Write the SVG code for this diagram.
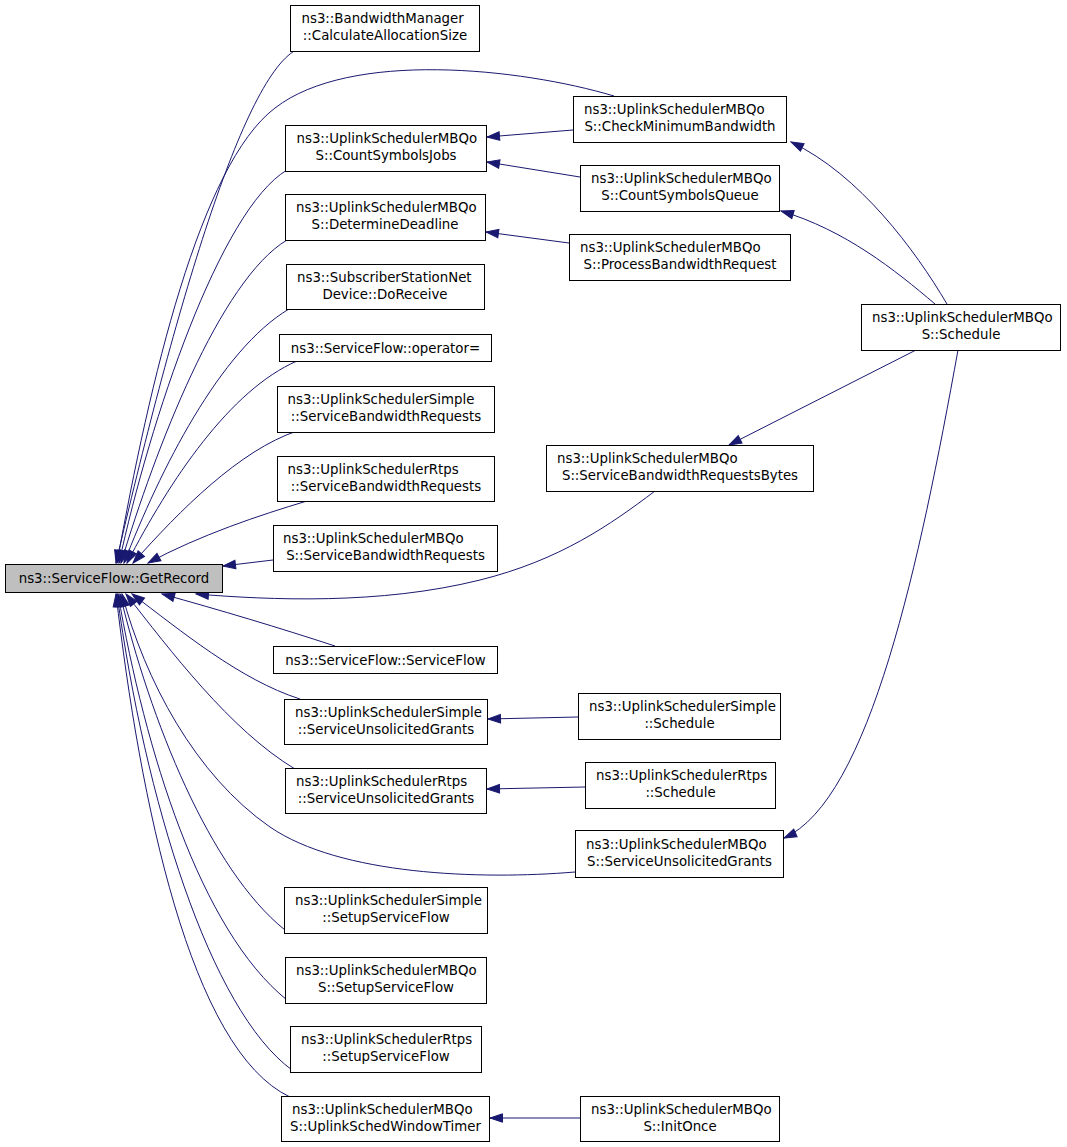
<svg xmlns="http://www.w3.org/2000/svg" width="1067" height="1147" viewBox="0 0 1067 1147">
<style>
.n rect{fill:#ffffff;stroke:#000000;stroke-width:1}
.n text{font-family:"DejaVu Sans","Liberation Sans",sans-serif;font-size:13.33px;fill:#000000;text-anchor:middle}
.n text.l{text-anchor:start}
#node0 rect{fill:#bfbfbf}
.e path{fill:none;stroke:#191970;stroke-width:1;marker-end:url(#arr)}
</style>
<defs>
<marker id="arr" markerUnits="userSpaceOnUse" markerWidth="14" markerHeight="10" refX="12.5" refY="4.25" orient="auto" overflow="visible">
<path d="M0,0 L12.5,4.25 L0,8.5 z" fill="#191970" stroke="#191970" stroke-width="1"/>
</marker>
</defs>
<rect width="1067" height="1147" fill="#ffffff"/>
<g id="edges" class="e">
<path d="M296,50 C240,80 170,330 116,563"/>
<path d="M614,96 C520,68 350,50 275,108 C200,165 150,380 117,563"/>
<path d="M287,170 C220,210 150,420 119,563"/>
<path d="M287,240 C220,280 155,450 121,563"/>
<path d="M289,309 C220,350 160,470 124,563"/>
<path d="M297,361 C230,390 170,480 127,563"/>
<path d="M297,431 C240,450 180,510 133,563"/>
<path d="M307,501 C260,515 200,535 148,563"/>
<path d="M273,560 L223,566"/>
<path d="M655,491 C610,525 560,560 480,580 C380,605 270,600 196,594"/>
<path d="M335,646 C280,628 220,610 162,594"/>
<path d="M300,699 C240,680 180,630 132,594"/>
<path d="M295,769 C230,730 170,650 126,594"/>
<path d="M575,872 C480,880 340,875 270,827 C195,775 145,680 122,594"/>
<path d="M285,930 C210,870 150,720 120,594"/>
<path d="M287,1000 C200,930 145,750 118,594"/>
<path d="M292,1070 C210,1010 145,800 117,594"/>
<path d="M290,1097 C190,1050 140,800 116,594"/>
<path d="M573,130 L487,137"/>
<path d="M580,177 L487,162"/>
<path d="M569,243 L486,232"/>
<path d="M947,304 C915,250 860,175 791,142"/>
<path d="M935,304 C895,270 845,230 781,211"/>
<path d="M916,350 L729,445"/>
<path d="M958,350 C920,560 870,800 784,838"/>
<path d="M578,717 L488,719"/>
<path d="M585,787 L487,789"/>
<path d="M580,1118 L490,1118"/>
</g>
<g id="node0" class="n"><rect x="5.5" y="564.5" width="217" height="28"/><text x="114" y="583">ns3::ServiceFlow::GetRecord</text></g>
<g id="node1" class="n"><rect x="290.5" y="5.5" width="189" height="46"/><text class="l" x="301.5" y="23">ns3::BandwidthManager</text><text x="385" y="39.5">::CalculateAllocationSize</text></g>
<g id="node2" class="n"><rect x="573.5" y="96.5" width="213" height="46"/><text class="l" x="584" y="114">ns3::UplinkSchedulerMBQo</text><text x="680" y="130.5">S::CheckMinimumBandwidth</text></g>
<g id="node3" class="n"><rect x="285.5" y="125.5" width="201" height="46"/><text class="l" x="296.5" y="143">ns3::UplinkSchedulerMBQo</text><text x="386" y="159.5">S::CountSymbolsJobs</text></g>
<g id="node4" class="n"><rect x="580.5" y="165.5" width="199" height="46"/><text class="l" x="591" y="183">ns3::UplinkSchedulerMBQo</text><text x="680" y="199.5">S::CountSymbolsQueue</text></g>
<g id="node5" class="n"><rect x="285.5" y="194.5" width="200" height="46"/><text class="l" x="296" y="212">ns3::UplinkSchedulerMBQo</text><text x="385" y="228.5">S::DetermineDeadline</text></g>
<g id="node6" class="n"><rect x="569.5" y="234.5" width="221" height="46"/><text class="l" x="580" y="252">ns3::UplinkSchedulerMBQo</text><text x="680" y="268.5">S::ProcessBandwidthRequest</text></g>
<g id="node7" class="n"><rect x="286.5" y="264.5" width="198" height="45"/><text class="l" x="297" y="282">ns3::SubscriberStationNet</text><text x="385" y="298.5">Device::DoReceive</text></g>
<g id="node8" class="n"><rect x="861.5" y="304.5" width="199" height="46"/><text class="l" x="872" y="322">ns3::UplinkSchedulerMBQo</text><text x="961" y="338.5">S::Schedule</text></g>
<g id="node9" class="n"><rect x="279.5" y="334.5" width="212" height="27"/><text x="385.5" y="352.5">ns3::ServiceFlow::operator=</text></g>
<g id="node10" class="n"><rect x="277.5" y="386.5" width="217" height="46"/><text class="l" x="287.5" y="404">ns3::UplinkSchedulerSimple</text><text x="386" y="420.5">::ServiceBandwidthRequests</text></g>
<g id="node11" class="n"><rect x="546.5" y="445.5" width="267" height="46"/><text class="l" x="557" y="463">ns3::UplinkSchedulerMBQo</text><text x="680" y="479.5">S::ServiceBandwidthRequestsBytes</text></g>
<g id="node12" class="n"><rect x="277.5" y="456.5" width="217" height="45"/><text class="l" x="287.5" y="474">ns3::UplinkSchedulerRtps</text><text x="386" y="490.5">::ServiceBandwidthRequests</text></g>
<g id="node13" class="n"><rect x="273.5" y="525.5" width="224" height="46"/><text class="l" x="283" y="543">ns3::UplinkSchedulerMBQo</text><text x="385.5" y="559.5">S::ServiceBandwidthRequests</text></g>
<g id="node14" class="n"><rect x="273.5" y="646.5" width="224" height="27"/><text x="385.5" y="664.5">ns3::ServiceFlow::ServiceFlow</text></g>
<g id="node15" class="n"><rect x="284.5" y="699.5" width="203" height="45"/><text class="l" x="295" y="717">ns3::UplinkSchedulerSimple</text><text x="386" y="733.5">::ServiceUnsolicitedGrants</text></g>
<g id="node16" class="n"><rect x="578.5" y="693.5" width="202" height="46"/><text class="l" x="589" y="711">ns3::UplinkSchedulerSimple</text><text x="679.5" y="727.5">::Schedule</text></g>
<g id="node17" class="n"><rect x="285.5" y="768.5" width="201" height="45"/><text class="l" x="296" y="786">ns3::UplinkSchedulerRtps</text><text x="386" y="802.5">::ServiceUnsolicitedGrants</text></g>
<g id="node18" class="n"><rect x="585.5" y="762.5" width="190" height="46"/><text class="l" x="596" y="780">ns3::UplinkSchedulerRtps</text><text x="680.5" y="796.5">::Schedule</text></g>
<g id="node19" class="n"><rect x="575.5" y="830.5" width="208" height="47"/><text class="l" x="586" y="849">ns3::UplinkSchedulerMBQo</text><text x="679.5" y="865.5">S::ServiceUnsolicitedGrants</text></g>
<g id="node20" class="n"><rect x="284.5" y="887.5" width="203" height="46"/><text class="l" x="295" y="905">ns3::UplinkSchedulerSimple</text><text x="386" y="921.5">::SetupServiceFlow</text></g>
<g id="node21" class="n"><rect x="285.5" y="957.5" width="201" height="46"/><text class="l" x="296" y="975">ns3::UplinkSchedulerMBQo</text><text x="386" y="991.5">S::SetupServiceFlow</text></g>
<g id="node22" class="n"><rect x="290.5" y="1026.5" width="191" height="46"/><text class="l" x="301" y="1044">ns3::UplinkSchedulerRtps</text><text x="386" y="1060.5">::SetupServiceFlow</text></g>
<g id="node23" class="n"><rect x="281.5" y="1096.5" width="208" height="45"/><text class="l" x="292" y="1114">ns3::UplinkSchedulerMBQo</text><text x="385.5" y="1130.5">S::UplinkSchedWindowTimer</text></g>
<g id="node24" class="n"><rect x="580.5" y="1096.5" width="199" height="45"/><text class="l" x="591" y="1114">ns3::UplinkSchedulerMBQo</text><text x="680" y="1130.5">S::InitOnce</text></g>
</svg>
